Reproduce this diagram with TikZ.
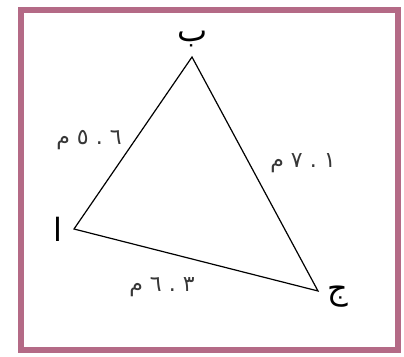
\documentclass[tikz,border=0pt]{standalone}
\usepackage{fontspec}
\newfontfamily\arabicfont[Script=Arabic]{DejaVu Sans}
\TeXXeTstate=1
\definecolor{framecol}{RGB}{180,106,134}
\definecolor{txtcol}{RGB}{55,55,55}
\newcommand{\gp}{\hspace{7pt}}
\tikzset{
  vlabel/.style={font=\arabicfont\fontsize{32}{34}\selectfont, text=black, inner sep=0pt},
  slabel/.style={font=\arabicfont\fontsize{22}{24}\selectfont, text=txtcol, inner sep=0pt},
  side/.style={line width=1.2pt, black, line join=miter}
}
\begin{document}
\begin{tikzpicture}[x=1pt,y=-1pt]
\useasboundingbox (0,0) rectangle (404,356);
\fill[white] (0,0) rectangle (404,356);
\draw[framecol, line width=6.5pt] (21,10) rectangle (398,350);
\coordinate (B) at (192,57);
\coordinate (A) at (74,229);
\coordinate (J) at (318,291);
\draw[side] (A) -- (B) -- (J) -- cycle;
\node[vlabel] (lb) at (193,39) {\beginR ب\endR};
\node[vlabel] (la) at (58,229) {\beginR ا\endR};
\node[vlabel] (lj) at (338,297) {\beginR ج\endR};
\node[slabel] (sab) at (89,140) {\beginR\beginL ٥\gp.\gp٦\endL{}\gp م\endR};
\node[slabel] (sbj) at (303,163) {\beginR\beginL ٧\gp.\gp١\endL{}\gp م\endR};
\node[slabel] (saj) at (162,287) {\beginR\beginL ٦\gp.\gp٣\endL{}\gp م\endR};
\end{tikzpicture}
\end{document}
